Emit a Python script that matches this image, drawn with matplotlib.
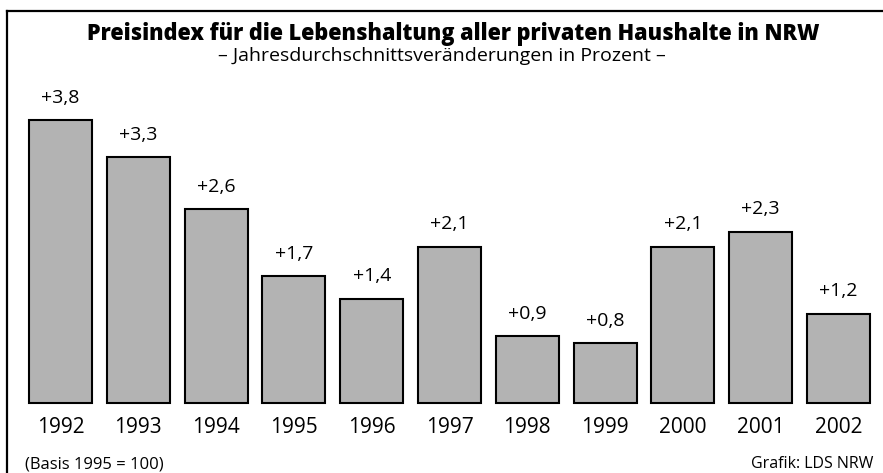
import matplotlib
matplotlib.use('Agg')
from matplotlib import pyplot as plt
from matplotlib.lines import Line2D

years = ['1992', '1993', '1994', '1995', '1996', '1997', '1998', '1999', '2000', '2001', '2002']
values = [3.8, 3.3, 2.6, 1.7, 1.4, 2.1, 0.9, 0.8, 2.1, 2.3, 1.2]
labels = ['+3,8', '+3,3', '+2,6', '+1,7', '+1,4', '+2,1', '+0,9', '+0,8', '+2,1', '+2,3', '+1,2']

plt.rcParams['font.family'] = ['Open Sans', 'DejaVu Sans']

W, H = 883, 473
fig = plt.figure(figsize=(W / 100, H / 100), dpi=100)
ax = fig.add_axes([0, 0, 1, 1])
ax.axis('off')

x = list(range(len(years)))
ax.bar(x, values, width=0.81, color='#b3b3b3', edgecolor='black', linewidth=1.5)
ax.set_xlim(-0.7776, 10.572)
ax.set_ylim(-0.9396, 5.409)

for xi, v, lab, yr in zip(x, values, labels, years):
    ax.annotate(lab, (xi, v), xytext=(0, 16), textcoords='offset points',
                ha='center', va='center', fontsize=14)
    ax.annotate(yr, (xi, 0), xytext=(0, -18), textcoords='offset points',
                ha='center', va='center', fontsize=15)

fig.text(453 / W, 1 - 34 / H, 'Preisindex für die Lebenshaltung aller privaten Haushalte in NRW',
         ha='center', va='center', fontsize=15.6, fontweight=800)
fig.text(0.5, 1 - 56 / H, '– Jahresdurchschnittsveränderungen in Prozent –',
         ha='center', va='center', fontsize=14)
fig.text(25 / W, 1 - 464 / H, '(Basis 1995 = 100)', ha='left', va='center', fontsize=12)
fig.text(873 / W, 1 - 464 / H, 'Grafik: LDS NRW', ha='right', va='center', fontsize=11.5)

# Rahmen oben und links
fig.add_artist(Line2D([6.5 / W, 1], [1 - 11 / H, 1 - 11 / H], color='black', lw=1.6,
                      transform=fig.transFigure))
fig.add_artist(Line2D([6.5 / W, 6.5 / W], [0, 1 - 11 / H], color='black', lw=1.6,
                      transform=fig.transFigure))

fig.savefig('out.png', dpi=100)
